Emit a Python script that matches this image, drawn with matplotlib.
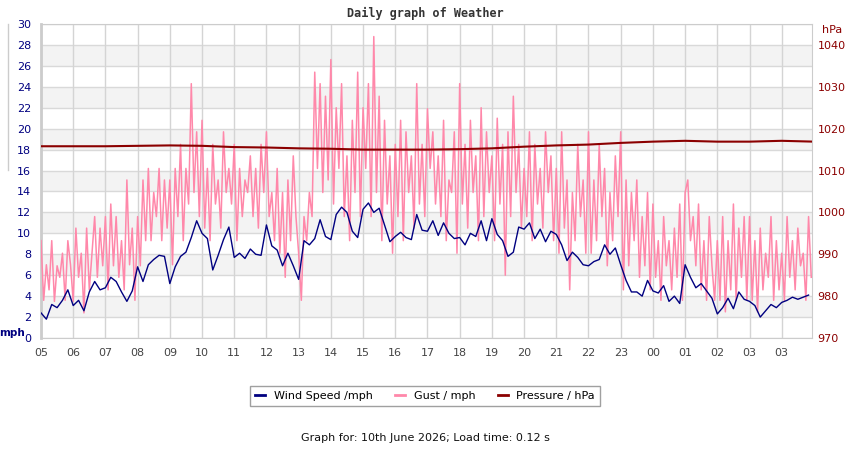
import numpy as np
import matplotlib
matplotlib.use("Agg")
import matplotlib.pyplot as plt
from matplotlib.lines import Line2D

# hour labels along the bottom (the clock repeats 03)
hour_labels = ["05", "06", "07", "08", "09", "10", "11", "12", "13", "14", "15", "16",
               "17", "18", "19", "20", "21", "22", "23", "00", "01", "02", "03", "03"]

# wind speed, mph, every 10 minutes (6 per hour)
wind = [
    2.4, 1.8, 3.2, 2.9, 3.6, 4.6,
    3.1, 3.6, 2.6, 4.4, 5.4, 4.6,
    4.8, 5.8, 5.4, 4.4, 3.5, 4.5,
    6.8, 5.4, 7.0, 7.5, 7.9, 7.8,
    5.2, 6.8, 7.8, 8.2, 9.6, 11.2,
    10.0, 9.5, 6.5, 7.9, 9.4, 10.6,
    7.7, 8.1, 7.6, 8.5, 8.0, 7.9,
    10.8, 8.8, 8.4, 6.9, 8.1, 6.9,
    5.6, 9.3, 8.9, 9.5, 11.3, 9.7,
    9.4, 11.8, 12.5, 12.0, 10.2, 9.6,
    12.3, 12.9, 12.0, 12.4, 10.8, 9.2,
    9.7, 10.1, 9.6, 9.4, 11.8, 10.3,
    10.2, 11.2, 9.8, 11.0, 10.0, 9.5,
    9.6, 8.9, 10.0, 9.7, 11.2, 9.3,
    11.4, 9.9, 9.3, 7.8, 8.2, 10.6,
    10.4, 11.0, 9.5, 10.4, 9.2, 10.2,
    9.9, 8.9, 7.4, 8.2, 7.7, 7.0,
    6.9, 7.3, 7.5, 8.9, 8.0, 8.6,
    7.0, 5.5, 4.4, 4.4, 4.0, 5.5,
    4.5, 4.3, 5.0, 3.5, 4.0, 3.3,
    7.0, 5.8, 4.8, 5.2, 4.5, 3.8,
    2.3, 2.9, 3.8, 2.8, 4.4, 3.7,
    3.5, 3.1, 2.0, 2.6, 3.2, 2.9,
    3.4, 3.6, 3.9, 3.7, 3.9, 4.1,
]

# gust, mph, every 5 minutes (12 per hour)
gust = [
    9.3, 3.6, 7.0, 4.6, 9.3, 3.5, 6.9, 5.8, 8.1, 3.6, 9.3, 7.0,
    3.5, 10.5, 5.8, 8.1, 2.4, 10.5, 4.6, 8.1, 11.6, 5.8, 10.5, 6.9,
    11.6, 4.6, 12.8, 6.9, 11.6, 5.8, 9.3, 4.6, 15.1, 7.0, 10.5, 3.6,
    11.6, 6.9, 15.1, 9.3, 16.2, 9.3, 13.9, 11.6, 16.2, 9.3, 15.1, 10.5,
    15.1, 7.0, 16.2, 11.6, 18.5, 9.3, 16.2, 12.8, 24.3, 13.9, 19.7, 11.6,
    20.8, 10.5, 16.2, 9.3, 18.5, 12.8, 15.1, 10.5, 19.7, 13.9, 16.2, 12.8,
    18.5, 9.3, 16.2, 11.6, 15.1, 13.9, 17.4, 11.6, 16.2, 10.5, 18.5, 13.9,
    19.7, 11.6, 13.9, 9.3, 16.2, 8.1, 13.9, 5.8, 15.1, 9.3, 17.4, 11.6,
    8.1, 3.6, 11.6, 9.3, 13.9, 11.6, 25.4, 16.2, 24.3, 13.9, 23.1, 15.1,
    26.6, 12.8, 22.0, 16.2, 24.3, 11.6, 17.4, 9.3, 20.8, 13.9, 25.4, 11.6,
    22.0, 16.2, 24.3, 11.6, 28.8, 13.9, 23.1, 9.3, 20.8, 12.8, 17.4, 8.1,
    18.5, 11.6, 20.8, 9.3, 19.7, 13.9, 17.4, 10.5, 24.3, 12.8, 18.5, 11.6,
    21.9, 16.2, 19.7, 12.8, 17.4, 11.6, 20.8, 9.3, 15.1, 13.9, 19.7, 8.1,
    24.3, 12.8, 18.5, 10.5, 20.8, 13.9, 17.4, 9.3, 22.0, 11.6, 19.7, 13.9,
    17.4, 9.3, 21.0, 12.8, 18.5, 6.0, 19.7, 11.6, 23.1, 13.9, 18.5, 10.5,
    16.2, 11.6, 19.7, 9.3, 18.5, 12.8, 16.2, 10.5, 19.7, 13.9, 17.4, 9.3,
    16.2, 8.1, 19.7, 10.5, 15.1, 4.6, 13.9, 9.3, 18.5, 11.6, 15.1, 8.1,
    19.7, 8.1, 15.1, 9.3, 18.5, 11.6, 16.2, 6.9, 13.9, 9.3, 17.4, 11.6,
    19.7, 4.6, 15.1, 6.9, 13.9, 9.3, 15.1, 5.8, 11.6, 6.9, 13.9, 4.6,
    12.8, 5.8, 9.3, 3.6, 11.6, 6.9, 9.3, 4.6, 10.5, 5.8, 12.8, 3.6,
    13.9, 15.1, 9.3, 11.6, 6.9, 12.8, 4.6, 9.3, 3.6, 11.6, 6.9, 3.6,
    9.3, 3.6, 11.6, 2.5, 9.3, 4.6, 12.8, 3.6, 10.5, 5.8, 11.6, 3.6,
    11.6, 3.6, 9.3, 2.5, 10.5, 4.6, 8.1, 5.8, 11.6, 3.6, 9.3, 4.6,
    8.1, 3.6, 11.6, 5.8, 9.3, 4.6, 10.5, 6.9, 8.1, 3.6, 11.6, 5.8,
]

# pressure, hPa, on the hour
pressure = [1015.8, 1015.8, 1015.8, 1015.9, 1016.0, 1015.9, 1015.6, 1015.5,
            1015.3, 1015.2, 1015.0, 1015.0, 1015.0, 1015.1, 1015.3, 1015.7,
            1016.0, 1016.2, 1016.6, 1016.9, 1017.1, 1016.9, 1016.9, 1017.1, 1016.9]

t_wind = np.arange(len(wind)) / 6.0
t_gust = np.arange(len(gust)) / 12.0
t_pres = np.arange(len(pressure)) * 1.0

navy = "#000080"
pink = "#ff88aa"
dred = "#8b0000"

fig = plt.figure(figsize=(8.5, 4.5), dpi=100)
ax = fig.add_axes([41 / 850, 1 - 338 / 450, 771 / 850, 314 / 450])

for lo in range(2, 30, 4):
    ax.axhspan(lo, lo + 2, color="#f3f3f3", zorder=0, lw=0)
for y in range(0, 31, 2):
    ax.axhline(y, color="#d9d9d9", lw=1, zorder=1)
for h in range(24):
    ax.axvline(h, color="#d4d4d4", lw=1, zorder=1)

ax.plot(t_gust, gust, color=pink, lw=1.1, zorder=3)
ax.plot(t_wind, wind, color=navy, lw=1.0, zorder=4)

ax.set_xlim(0, 23.94)
ax.set_ylim(0, 30)
ax.set_yticks(range(0, 31, 2))
ax.set_xticks(range(24))
ax.set_xticklabels(hour_labels)
ax.tick_params(axis="y", length=0, pad=7, labelsize=8, labelcolor=navy)
ax.tick_params(axis="x", length=0, pad=7, labelsize=8, labelcolor="#444444")
for s in ax.spines.values():
    s.set_color("#cccccc")
ax.spines["left"].set_linewidth(2)

ax2 = ax.twinx()
ax2.plot(t_pres, pressure, color=dred, lw=1.5, zorder=5)
ax2.set_ylim(970, 1045)
ax2.set_yticks(range(970, 1041, 10))
ax2.tick_params(axis="y", length=0, pad=4, labelsize=8, labelcolor=dred)
for s in ax2.spines.values():
    s.set_visible(False)

fig.text(425 / 850, 1 - 13 / 450, "Daily graph of Weather", ha="center", va="center",
         family="DejaVu Sans Mono", weight="bold", fontsize=8.5, color="#333333")
fig.text(12 / 850, 1 - 333 / 450, "mph", ha="center", va="center",
         weight="bold", fontsize=7.5, color=navy)
fig.text(832 / 850, 1 - 30 / 450, "hPa", ha="center", va="center",
         fontsize=8, color=dred)
fig.add_artist(Line2D([8 / 850, 8 / 850], [1 - 24 / 450, 1 - 170 / 450],
                      color="#cccccc", lw=1, transform=fig.transFigure))

handles = [Line2D([], [], color=navy, lw=2),
           Line2D([], [], color=pink, lw=2),
           Line2D([], [], color=dred, lw=2)]
leg = fig.legend(handles, ["Wind Speed /mph", "Gust / mph", "Pressure / hPa"],
                 loc="center", bbox_to_anchor=(425 / 850, 1 - 396 / 450), ncol=3,
                 fontsize=8, frameon=True, fancybox=False, handlelength=0.9,
                 handletextpad=0.8, columnspacing=2.0, borderpad=0.45)
leg.get_frame().set_edgecolor("#888888")
leg.get_frame().set_linewidth(1)

fig.text(425 / 850, 1 - 438 / 450, "Graph for: 10th June 2026; Load time: 0.12 s",
         ha="center", va="center", fontsize=8, color="#111111")

fig.savefig("out.png", dpi=100)
